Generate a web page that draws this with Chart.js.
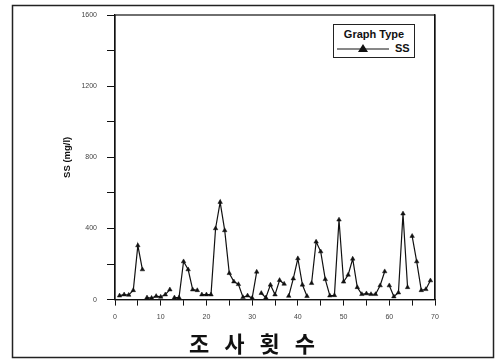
<!DOCTYPE html>
<html>
<head>
<meta charset="utf-8">
<script src="https://cdn.jsdelivr.net/npm/chart.js@4.4.1/dist/chart.umd.min.js"></script>
<style>
  html, body { margin: 0; padding: 0; background: #fff; }
  #wrap { position: relative; width: 496px; height: 361px; }
  #legendBox {
    position: absolute; left: 333px; top: 24px; width: 82px; height: 34px;
    box-sizing: border-box; border: 1px solid #222; background: #fff;
    font-family: "Liberation Sans", Arial, sans-serif; font-weight: bold; color: #111;
  }
  #legendBox .head { font-size: 11px; text-align: center; margin-top: 3px; line-height: 12px; }
  #legendBox .row { position: relative; height: 14px; margin-top: 2px; }
  #legendBox svg { position: absolute; left: 3px; top: 1px; }
  #legendBox .name { position: absolute; left: 61px; top: 0; font-size: 11px; }
</style>
</head>
<body>
<div id="wrap">
  <canvas id="ssChart" width="496" height="361"></canvas>
  <div id="legendBox">
    <div class="head">Graph Type</div>
    <div class="row">
      <svg width="54" height="12"><line x1="0" y1="6" x2="52" y2="6" stroke="#111" stroke-width="1"/><polygon points="26,1 31,9 21,9" fill="#111"/></svg>
      <span class="name" id="legendName"></span>
    </div>
  </div>
</div>
<script>
// survey number (조사횟수) and SS concentration (mg/l)
const surveyNo = [
  1, 2, 3, 4, 5, 6, 7, 8, 9, 10, 11, 12, 13, 14, 15, 16, 17, 18, 19, 20,
  21, 22, 23, 24, 25, 26, 27, 28, 29, 30, 31, 32, 33, 34, 35, 36, 37, 38, 39, 40,
  41, 42, 43, 44, 45, 46, 47, 48, 49, 50, 51, 52, 53, 54, 55, 56, 57, 58, 59, 60,
  61, 62, 63, 64, 65, 66, 67, 68, 69
];
const ssValues = [
  22, 28, 26, 52, 304, 169, 11, 9, 19, 15, 28, 56, 11, 11, 214, 169, 56, 52, 28, 28,
  28, 400, 548, 389, 148, 101, 86, 13, 22, 9, 156, 36, 11, 83, 28, 109, 88, 20, 118, 231,
  83, 19, 92, 325, 270, 114, 22, 24, 449, 100, 139, 229, 69, 30, 34, 30, 30, 79, 158, 79,
  17, 39, 483, 69, 357, 214, 52, 58, 107
];
// the line is not drawn between a survey and the next one
const breaksAfter = [6, 12, 18, 31, 37, 42, 59, 64];

const xTicks = [0, 10, 20, 30, 40, 50, 60, 70];
const yTicks = [0, 400, 800, 1200, 1600];
const seriesName = "SS";

document.getElementById("legendName").textContent = seriesName;

const points = surveyNo.map((n, i) => ({ x: n, y: ssValues[i] }));

// plot frame + outer border
const framePlugin = {
  id: "frame",
  afterDraw(chart) {
    const { ctx, chartArea: a } = chart;
    ctx.save();
    ctx.strokeStyle = "#111";
    ctx.lineWidth = 1.2;
    ctx.strokeRect(a.left, a.top, a.right - a.left, a.bottom - a.top);
    ctx.strokeStyle = "#222";
    ctx.lineWidth = 1.5;
    ctx.strokeRect(12.5, 5.5, 481, 352);
    ctx.restore();
  }
};

const tickFont = { family: "'Liberation Sans', Arial, sans-serif", size: 7 };

new Chart(document.getElementById("ssChart"), {
  type: "line",
  data: {
    datasets: [{
      label: seriesName,
      data: points,
      borderColor: "#111",
      backgroundColor: "#111",
      borderWidth: 1.2,
      pointStyle: "triangle",
      pointRadius: 2.6,
      pointBackgroundColor: "#111",
      pointBorderColor: "#111",
      pointBorderWidth: 0.5,
      tension: 0,
      segment: {
        borderColor: ctx => breaksAfter.includes(ctx.p0.parsed.x) ? "rgba(0,0,0,0)" : "#111"
      }
    }]
  },
  options: {
    responsive: false,
    animation: false,
    devicePixelRatio: 1,
    layout: { padding: { left: 8, right: 0, top: 15, bottom: 0 } },
    plugins: {
      legend: { display: false },
      tooltip: { enabled: false },
      title: {
        display: true,
        position: "bottom",
        text: "조   사   횟   수",
        color: "#111",
        font: { family: "'Noto Sans CJK KR', sans-serif", size: 22, weight: "bold" },
        padding: { top: 9, bottom: 4 }
      }
    },
    scales: {
      x: {
        type: "linear",
        min: 0,
        max: 70,
        afterFit: s => { s.height = 22; },
        ticks: {
          stepSize: 5,
          autoSkip: false,
          maxRotation: 0,
          padding: 7,
          color: "#444",
          font: tickFont,
          callback: v => xTicks.includes(v) ? String(v) : ""
        },
        grid: { drawOnChartArea: false, tickLength: 6, tickColor: "#111" },
        border: { color: "#111", width: 1.2 }
      },
      y: {
        min: 0,
        max: 1600,
        afterFit: s => { s.width = 107; },
        ticks: {
          stepSize: 200,
          padding: 10,
          color: "#444",
          font: tickFont,
          callback: v => yTicks.includes(v) ? String(v) : ""
        },
        grid: { drawOnChartArea: false, tickLength: 8, tickColor: "#111" },
        border: { color: "#111", width: 1.2 },
        title: {
          display: true,
          text: "SS (mg/l)",
          color: "#111",
          font: { family: "'Liberation Sans', Arial, sans-serif", size: 9.5, weight: "bold" },
          padding: { top: 54, bottom: 0 }
        }
      },
      y2: {
        position: "right",
        min: 0,
        max: 1600,
        afterFit: s => { s.width = 61; },
        ticks: { display: false, stepSize: 200 },
        grid: { drawOnChartArea: false, drawTicks: false },
        border: { color: "#111", width: 1.2 }
      }
    }
  },
  plugins: [framePlugin]
});
</script>
</body>
</html>
